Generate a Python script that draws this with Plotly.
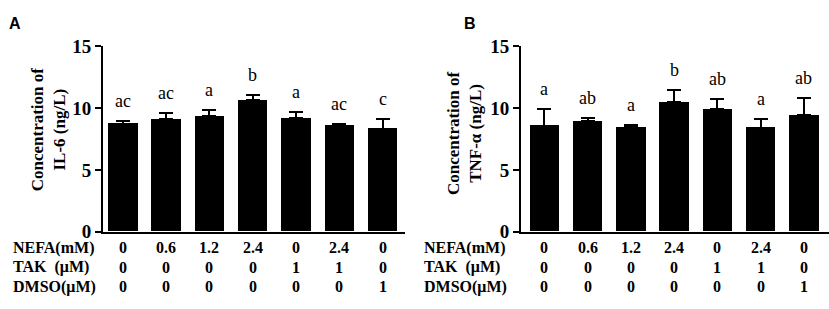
import plotly.graph_objects as go

groups = list(range(7))
nefa = ["0", "0.6", "1.2", "2.4", "0", "2.4", "0"]
tak = ["0", "0", "0", "0", "1", "1", "0"]
dmso = ["0", "0", "0", "0", "0", "0", "1"]
row_labels = ["NEFA(mM)", "TAK  (μM)", "DMSO(μM)"]

il6_mean = [8.75, 9.13, 9.33, 10.67, 9.2, 8.63, 8.33]
il6_err = [0.2, 0.45, 0.55, 0.4, 0.45, 0.12, 0.8]
il6_letters = ["ac", "ac", "a", "b", "a", "ac", "c"]

tnf_mean = [8.58, 8.95, 8.48, 10.47, 9.9, 8.43, 9.45]
tnf_err = [1.35, 0.25, 0.12, 1.03, 0.87, 0.7, 1.35]
tnf_letters = ["a", "ab", "a", "b", "ab", "a", "ab"]

yticks = [0, 5, 10, 15]

W, H = 829, 309
def px(x):
    return x / W
def py(y):
    return 1 - y / H

serif = "Liberation Serif, Times New Roman, serif"
fig = go.Figure()

panels = [
    dict(xa="x", ya="y", mean=il6_mean, err=il6_err, letters=il6_letters,
         dom=(px(103), px(405)), rng=[-0.46, 6.52], lab_x=11, title_x=48, title_y=128,
         title="Concentration of<br>IL-6 (ng/L)", letter="A", letter_x=7),
    dict(xa="x2", ya="y2", mean=tnf_mean, err=tnf_err, letters=tnf_letters,
         dom=(px(521), px(829)), rng=[-0.54, 6.58], lab_x=422, title_x=464, title_y=132,
         title="Concentration of<br>TNF-α (ng/L)", letter="B", letter_x=462),
]

annotations = []
for k, p in enumerate(panels):
    fig.add_trace(go.Bar(
        x=groups, y=p["mean"], width=0.68, xaxis=p["xa"], yaxis=p["ya"],
        marker=dict(color="black", line=dict(width=0)),
        error_y=dict(type="data", symmetric=False, array=p["err"],
                     arrayminus=[0] * 7, color="black", thickness=2, width=7),
        showlegend=False, hoverinfo="skip"))
    for i in groups:
        annotations.append(dict(
            x=i, y=p["mean"][i] + p["err"][i], xref=p["xa"], yref=p["ya"],
            xanchor="center", yanchor="middle",
            text=p["letters"][i], showarrow=False, yshift=20,
            font=dict(family=serif, size=18, color="black")))
    rows = [nefa, tak, dmso]
    row_y = [255, 276, 297]
    for r in range(3):
        annotations.append(dict(
            x=px(p["lab_x"]), y=py(row_y[r]), xref="paper", yref="paper",
            xanchor="left", yanchor="middle", text=row_labels[r], showarrow=False,
            font=dict(family=serif, size=16, color="black", weight="bold")))
        for i in groups:
            annotations.append(dict(
                x=i, y=py(row_y[r]), xref=p["xa"], yref="paper",
                xanchor="center", yanchor="middle",
                text=rows[r][i], showarrow=False,
                font=dict(family=serif, size=16, color="black", weight="bold")))
    annotations.append(dict(
        x=px(p["title_x"]), y=py(p["title_y"]), xref="paper", yref="paper",
        xanchor="center", yanchor="middle",
        text=p["title"], textangle=-90, showarrow=False,
        font=dict(family=serif, size=17, color="black", weight="bold")))
    annotations.append(dict(
        x=px(p["letter_x"]), y=py(3), xref="paper", yref="paper",
        xanchor="left", yanchor="top", text=p["letter"],
        showarrow=False, font=dict(family="Liberation Sans, Arial, sans-serif", size=16,
                                   color="black", weight="bold")))

ydom = [py(238), py(39)]
xcommon = dict(showticklabels=False, ticks="", showline=True, linecolor="black",
               linewidth=2, showgrid=False, zeroline=False, fixedrange=True)
ycommon = dict(range=[0, 15], tickvals=yticks, ticks="outside", ticklen=6, tickwidth=2,
               tickcolor="black", showline=True, linecolor="black", linewidth=2,
               showgrid=False, zeroline=False, fixedrange=True,
               tickfont=dict(family=serif, size=19, color="black", weight="bold"))

fig.update_layout(
    width=W, height=H, margin=dict(l=0, r=0, t=0, b=0),
    plot_bgcolor="white", paper_bgcolor="white", bargap=0,
    xaxis=dict(domain=list(panels[0]["dom"]), range=panels[0]["rng"], anchor="y", **xcommon),
    yaxis=dict(domain=ydom, anchor="x", **ycommon),
    xaxis2=dict(domain=list(panels[1]["dom"]), range=panels[1]["rng"], anchor="y2", **xcommon),
    yaxis2=dict(domain=ydom, anchor="x2", **ycommon),
    annotations=annotations,
)

fig.write_html("out.html", config={"displayModeBar": False},
               post_script="document.body.style.margin='0';document.body.style.overflow='hidden';")
